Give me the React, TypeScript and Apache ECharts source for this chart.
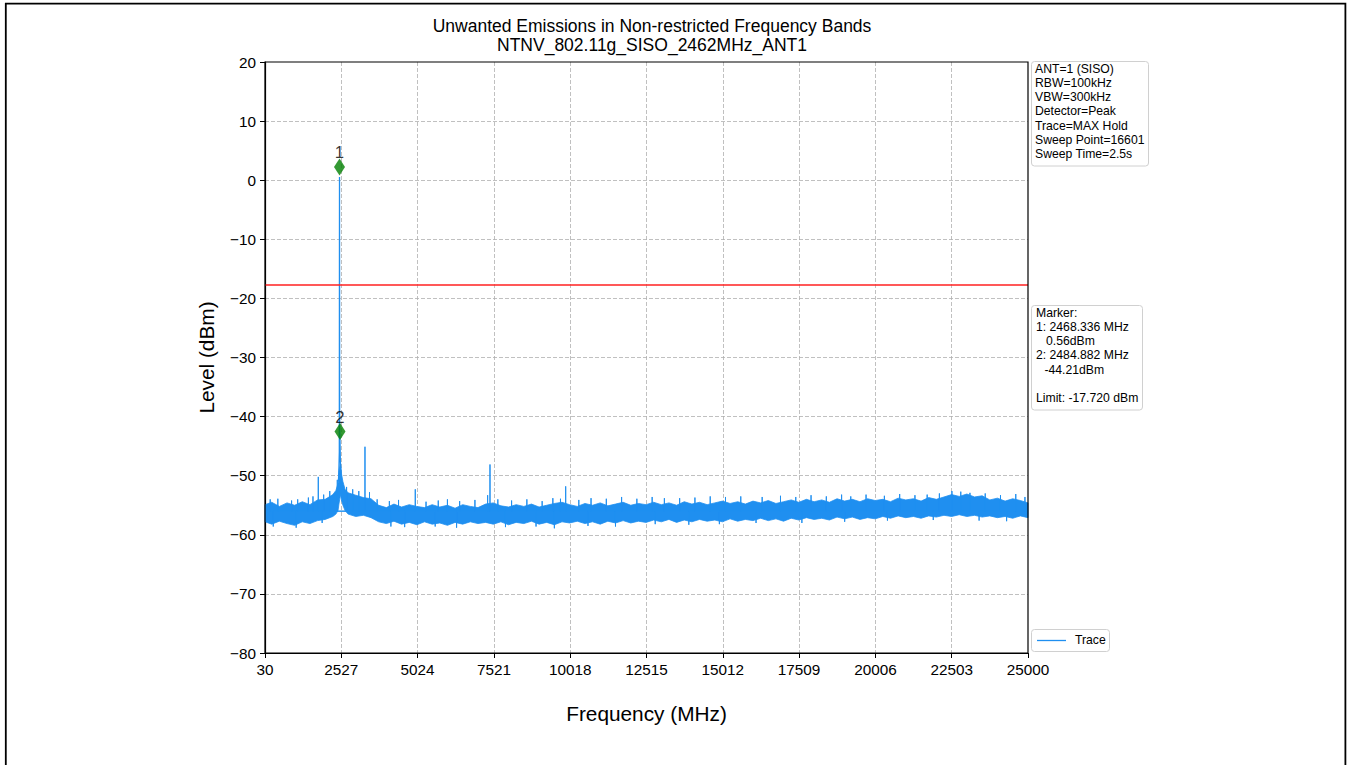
import React, { useEffect, useRef } from "react";
import * as echarts from "echarts";

const FONT = "'Liberation Sans', Arial, Helvetica, sans-serif";
const TRACE_COLOR = "#1f8ff0";

// x ticks: 30, 2527, ..., 25000
const X_MIN = 30;
const X_MAX = 25000;
const X_STEP = 2497;
const Y_MIN = -80;
const Y_MAX = 20;
const Y_STEP = 10;

// Noise floor band (upper / lower envelope of the MAX-hold trace), MHz / dBm
const bandFreqs = [
  30, 250, 500, 750, 1000, 1250, 1500, 1750, 2000, 2250, 2350, 2420, 2450, 2500, 2530, 2580, 2650, 2750,
  3000, 3250, 3500, 3750, 4000, 4250, 4500, 4750, 5000, 5250, 5500, 5750, 6000, 6250, 6500, 6750, 7000,
  7250, 7500, 7750, 8000, 8250, 8500, 8750, 9000, 9250, 9500, 9750, 10000, 10250, 10500, 10750, 11000,
  11250, 11500, 11750, 12000, 12250, 12500, 12750, 13000, 13250, 13500, 13750, 14000, 14250, 14500, 14750,
  15000, 15250, 15500, 15750, 16000, 16250, 16500, 16750, 17000, 17250, 17500, 17750, 18000, 18250, 18500,
  18750, 19000, 19250, 19500, 19750, 20000, 20250, 20500, 20750, 21000, 21250, 21500, 21750, 22000, 22250,
  22500, 22750, 23000, 23250, 23500, 23750, 24000, 24250, 24500, 24750, 25000,
];
const bandUpper = [
  -54.9, -54.5, -55.2, -54.6, -55.0, -54.4, -54.9, -54.1, -54.0, -53.2, -52.5, -51.3, -49.2, -47.8, -49.6, -51.0, -52.3, -52.9,
  -53.3, -53.7, -53.9, -55.0, -55.4, -54.8, -55.3, -54.9, -55.2, -55.4, -54.9, -55.3, -55.0, -55.5, -54.9, -55.2, -55.4,
  -54.8, -54.6, -55.1, -55.3, -54.9, -55.2, -54.8, -55.3, -55.0, -54.7, -54.5, -54.9, -55.2, -54.7, -55.0, -54.6,
  -55.1, -54.8, -54.5, -55.0, -54.7, -54.9, -54.5, -54.9, -54.6, -55.0, -54.4, -54.8, -54.5, -54.9, -54.6,
  -54.3, -54.7, -54.4, -54.8, -54.3, -54.6, -54.2, -54.7, -54.4, -54.1, -54.5, -54.0, -54.4, -54.1, -54.5,
  -53.9, -54.3, -54.0, -54.4, -53.9, -54.2, -54.0, -54.4, -53.8, -54.1, -53.9, -54.3, -53.7, -54.0, -53.6,
  -53.2, -53.5, -53.1, -53.6, -53.4, -54.1, -53.8, -54.3, -53.9, -54.2, -54.6,
];
const bandLower = [
  -57.8, -58.2, -57.7, -58.1, -58.4, -57.8, -58.1, -57.6, -57.4, -56.9, -56.5, -55.9, -54.8, -53.2, -54.1, -55.0, -55.9, -56.5,
  -56.9, -56.7, -57.1, -57.8, -58.1, -57.7, -58.2, -57.9, -58.3, -57.8, -58.2, -58.0, -58.4, -57.9, -58.2, -57.8, -58.1,
  -57.9, -58.2, -57.8, -58.3, -57.9, -58.1, -57.7, -58.2, -57.9, -58.3, -57.8, -58.0, -57.7, -58.1, -57.8, -58.2,
  -57.7, -58.0, -57.6, -58.0, -57.7, -57.9, -57.5, -57.8, -57.4, -57.9, -57.5, -57.8, -57.4, -57.7, -57.5,
  -57.8, -57.3, -57.7, -57.4, -57.6, -57.2, -57.6, -57.3, -57.7, -57.2, -57.5, -57.1, -57.4, -57.2, -57.5,
  -57.0, -57.3, -57.0, -57.4, -57.1, -57.3, -56.9, -57.2, -56.8, -57.1, -56.9, -57.2, -56.8, -57.0, -56.7,
  -56.9, -56.6, -56.9, -56.7, -57.0, -56.8, -57.1, -56.9, -57.2, -56.8, -57.1,
];

// Narrow spurs standing above the noise floor
const spurFreqs = [
  200, 450, 900, 1100, 1450, 1600, 1774, 1950, 2150, 2396, 2700, 2900, 3100, 3302, 3450, 3700, 4100, 4400, 4948,
  5300, 5700, 6000, 6400, 6900, 7316, 7393, 7650, 8100, 8600, 9100, 9450, 9700, 9870, 10300, 10700, 11200, 11700,
  12200, 12700, 13100, 13600, 14100, 14600, 15100, 15600, 16300, 16900, 17400, 17900, 18400, 18900, 19200, 19700,
  20300, 20800, 21300, 21700, 22100, 22510, 22800, 23100, 23600, 24100, 24600, 24900,
];
const spurLevels = [
  -54.0, -53.9, -54.2, -54.0, -53.7, -53.5, -50.2, -53.2, -52.6, -50.7, -51.9, -52.3, -52.6, -45.1, -52.8, -54.0, -54.3, -54.1, -52.3,
  -54.4, -54.2, -54.0, -54.3, -54.1, -53.3, -48.1, -54.0, -54.2, -54.0, -54.3, -53.8, -53.9, -51.8, -54.1, -53.8, -53.9, -53.6,
  -53.9, -53.6, -53.8, -53.8, -53.7, -53.5, -53.6, -53.5, -53.6, -53.4, -53.6, -53.3, -53.5, -53.2, -53.5, -53.2,
  -53.4, -53.1, -53.3, -53.2, -53.0, -52.6, -52.7, -52.9, -53.0, -53.3, -53.1, -53.6,
];
// Narrow dips below the noise floor
const dipFreqs = [300, 1050, 1900, 4150, 4600, 5600, 6300, 7900, 8900, 9500, 10600, 11500, 12800, 13900, 14900, 16100, 17600, 19000, 20400, 21900, 23400, 24300];
const dipLevels = [-58.6, -58.8, -58.0, -58.6, -58.7, -58.6, -58.8, -58.7, -58.6, -58.9, -58.5, -58.6, -58.2, -58.3, -58.2, -58.0, -58.0, -57.8, -57.6, -57.5, -57.6, -57.7];
const HAIR_BASE = -56;

// Carrier peak
const peakFreqs = [2440, 2462, 2468.336, 2474, 2484.882, 2496, 2520];
const peakLevels = [-51, -46, 0.56, -42, -44.21, -47.5, -50];

// Markers
const markerFreqs = [2468.336, 2484.882];
const markerLevels = [0.56, -44.21];
const markerNames = ["1", "2"];

const LIMIT = -17.72;

const infoLines = [
  "ANT=1 (SISO)",
  "RBW=100kHz",
  "VBW=300kHz",
  "Detector=Peak",
  "Trace=MAX Hold",
  "Sweep Point=16601",
  "Sweep Time=2.5s",
];
const markerLines: [string, number][] = [
  ["Marker:", 0],
  ["1: 2468.336 MHz", 0],
  ["0.56dBm", 10],
  ["2: 2484.882 MHz", 0],
  ["-44.21dBm", 8.5],
  ["", 0],
  ["Limit: -17.720 dBm", 0],
];

const sx = (f: number) => f - X_MIN; // axis runs from 0 so ticks start at 30
const minus = (v: number) => (v < 0 ? "\u2212" + Math.abs(v) : String(v));

const GRID = { left: 265, top: 62, width: 763, height: 591 };

export default function App() {
  const ref = useRef<HTMLDivElement>(null);
  useEffect(() => {
    if (!ref.current) return;
    const chart = echarts.init(ref.current, undefined, { renderer: "svg" });

    const bandData = bandFreqs.map((f, i) => [sx(f), bandUpper[i], bandLower[i]]);
    const hairData: any[] = [];
    spurFreqs.forEach((f, i) => {
      hairData.push([sx(f), HAIR_BASE], [sx(f), spurLevels[i]], [sx(f), HAIR_BASE]);
    });
    const dipData: any[] = [];
    dipFreqs.forEach((f, i) => {
      dipData.push([sx(f), HAIR_BASE], [sx(f), dipLevels[i]], [sx(f), HAIR_BASE]);
    });
    const peakData = peakFreqs.map((f, i) => [sx(f), peakLevels[i]]);
    const markerData = markerFreqs.map((f, i) => ({ value: [sx(f), markerLevels[i]], name: markerNames[i] }));

    const lineH = 14.3;
    const TF = `12.2px ${FONT}`;
    const infoText = infoLines.map((t, i) => ({
      type: "text",
      style: { text: t, x: 1035, y: 62.5 + i * lineH, font: TF, fill: "#000" },
    }));
    const markerText = markerLines.map(([t, dx], i) => ({
      type: "text",
      style: { text: t, x: 1036 + dx, y: 306.5 + i * lineH, font: TF, fill: "#000" },
    }));

    const split = { show: true, showMinLine: false, showMaxLine: false, lineStyle: { color: "#b0b0b0", width: 0.8, type: [4, 2] } };

    chart.setOption({
      animation: false,
      backgroundColor: "#fff",
      textStyle: { fontFamily: FONT },
      title: {
        text: "Unwanted Emissions in Non-restricted Frequency Bands\nNTNV_802.11g_SISO_2462MHz_ANT1",
        left: 647,
        textAlign: "center",
        top: 12,
        textStyle: { fontSize: 17.5, fontWeight: "normal", color: "#000", lineHeight: 18.5, fontFamily: FONT },
      },
      grid: { left: GRID.left, top: GRID.top, width: GRID.width, height: GRID.height, show: false },
      xAxis: {
        type: "value",
        min: 0,
        max: X_MAX - X_MIN,
        interval: X_STEP,
        name: "Frequency (MHz)",
        nameLocation: "middle",
        nameGap: 50,
        nameTextStyle: { fontSize: 20.8, color: "#000", fontFamily: FONT },
        axisLine: { show: true, onZero: false, lineStyle: { color: "#000", width: 1.2 } },
        axisTick: { show: true, length: 5, lineStyle: { color: "#000", width: 1 } },
        axisLabel: { formatter: (v: number) => String(Math.round(v + X_MIN)), fontSize: 15.3, color: "#000", margin: 9, fontFamily: FONT },
        splitLine: split,
      },
      yAxis: {
        type: "value",
        min: Y_MIN,
        max: Y_MAX,
        interval: Y_STEP,
        name: "Level (dBm)",
        nameLocation: "middle",
        nameGap: 48,
        nameTextStyle: { fontSize: 20.8, color: "#000", fontFamily: FONT },
        axisLine: { show: true, onZero: false, lineStyle: { color: "#000", width: 1.2 } },
        axisTick: { show: true, length: 5, lineStyle: { color: "#000", width: 1 } },
        axisLabel: { formatter: minus, fontSize: 15.3, color: "#000", margin: 9, fontFamily: FONT },
        splitLine: split,
      },
      series: [
        {
          name: "band",
          type: "custom",
          data: bandData,
          encode: { x: 0, y: [1, 2] },
          renderItem: (params: any, api: any) => {
            if (params.dataIndex !== 0) return null;
            const top = bandData.map((d) => api.coord([d[0], d[1]]));
            const bottom = bandData.map((d) => api.coord([d[0], d[2]])).reverse();
            return {
              type: "polygon",
              shape: { points: top.concat(bottom) },
              style: { fill: TRACE_COLOR, stroke: TRACE_COLOR, lineWidth: 0.8 },
            };
          },
          z: 2,
        },
        {
          name: "spurs",
          type: "line",
          data: hairData,
          symbol: "none",
          lineStyle: { color: TRACE_COLOR, width: 1 },
          z: 3,
        },
        {
          name: "dips",
          type: "line",
          data: dipData,
          symbol: "none",
          lineStyle: { color: TRACE_COLOR, width: 1 },
          z: 3,
        },
        {
          name: "Trace",
          type: "line",
          data: peakData,
          symbol: "none",
          lineStyle: { color: TRACE_COLOR, width: 1.3 },
          z: 3,
        },
        {
          name: "Limit",
          type: "line",
          data: [[0, LIMIT], [X_MAX - X_MIN, LIMIT]],
          symbol: "none",
          lineStyle: { color: "#ff2020", width: 1.4 },
          z: 4,
        },
        {
          name: "Markers",
          type: "scatter",
          data: markerData,
          symbol: "diamond",
          symbolSize: [11, 17],
          symbolOffset: [0, -10],
          itemStyle: { color: "#008000" },
          label: {
            show: true,
            position: "top",
            distance: -3,
            formatter: (p: any) => p.name,
            fontSize: 16.7,
            color: "#000",
            fontFamily: FONT,
          },
          z: 5,
        },
      ],
      graphic: [
        {
          type: "rect",
          shape: { x: 5.8, y: 3.6, width: 1339.6, height: 900 },
          style: { fill: "none", stroke: "#000", lineWidth: 1.8 },
          silent: true,
        },
        {
          type: "rect",
          shape: { x: GRID.left, y: GRID.top, width: GRID.width, height: GRID.height },
          style: { fill: "none", stroke: "#000", lineWidth: 1.2 },
          silent: true,
          z: 10,
        },
        {
          type: "rect",
          shape: { x: 1031.5, y: 61.5, width: 117, height: 104.5, r: 3 },
          style: { fill: "#fff", stroke: "#d0d0d0", lineWidth: 1 },
        },
        ...infoText,
        {
          type: "rect",
          shape: { x: 1031.5, y: 305.5, width: 111, height: 104.5, r: 3 },
          style: { fill: "#fff", stroke: "#d0d0d0", lineWidth: 1 },
        },
        ...markerText,
        {
          type: "rect",
          shape: { x: 1031.5, y: 629.5, width: 78, height: 22, r: 3 },
          style: { fill: "#fff", stroke: "#d0d0d0", lineWidth: 1 },
        },
        {
          type: "line",
          shape: { x1: 1037, y1: 640.5, x2: 1066, y2: 640.5 },
          style: { stroke: TRACE_COLOR, lineWidth: 1.3 },
        },
        {
          type: "text",
          style: { text: "Trace", x: 1075, y: 633.5, font: TF, fill: "#000" },
        },
      ],
    });
    return () => chart.dispose();
  }, []);
  return <div ref={ref} style={{ position: "absolute", left: 0, top: 0, width: 1349, height: 765 }} />;
}
